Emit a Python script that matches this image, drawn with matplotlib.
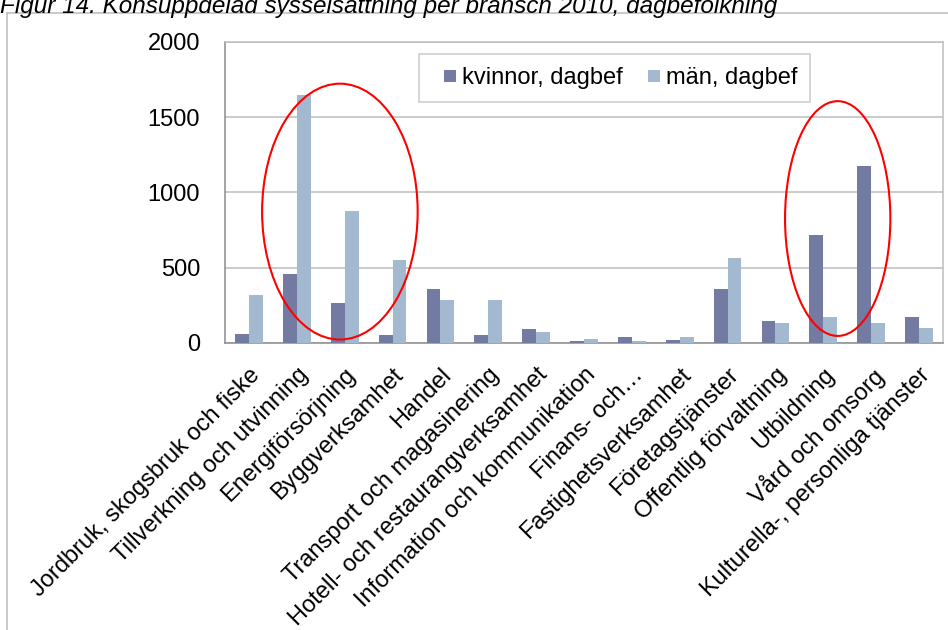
import numpy as np
import matplotlib.pyplot as plt
from matplotlib.patches import Ellipse, Rectangle
from matplotlib.lines import Line2D
from matplotlib.legend_handler import HandlerPatch

plt.rcParams['font.family'] = ['Liberation Sans', 'DejaVu Sans']

# Data
branscher = [
    "Jordbruk, skogsbruk och fiske",
    "Tillverkning och utvinning",
    "Energiförsörjning",
    "Byggverksamhet",
    "Handel",
    "Transport och magasinering",
    "Hotell- och restaurangverksamhet",
    "Information och kommunikation",
    "Finans- och…",
    "Fastighetsverksamhet",
    "Företagstjänster",
    "Offentlig förvaltning",
    "Utbildning",
    "Vård och omsorg",
    "Kulturella-, personliga tjänster",
]
kvinnor = [60, 458, 264, 51, 358, 55, 93, 15, 38, 20, 358, 147, 720, 1176, 173]
man = [320, 1645, 876, 553, 287, 287, 73, 27, 10, 42, 564, 131, 173, 131, 102]
yticks = [0, 500, 1000, 1500, 2000]

col_k = '#737BA3'
col_m = '#A3B9D0'
grid_col = '#BDBDBD'


# small square legend key sitting at the right end of its slot
def square_key(legend, orig_handle, xdescent, ydescent, width, height, fontsize):
    s = 0.5 * fontsize
    return Rectangle((width - s - xdescent, (height - s) / 2 - ydescent), s, s)


fig = plt.figure(figsize=(9.48, 6.3), dpi=100)
ax = fig.add_axes([225 / 948, 1 - 343 / 630, 718 / 948, 301 / 630])

x = np.arange(len(branscher))
w = 0.29
ax.bar(x - w / 2, kvinnor, w, color=col_k, zorder=3)
ax.bar(x + w / 2, man, w, color=col_m, zorder=3)

ax.set_xlim(-0.5, len(branscher) - 0.5)
ax.set_ylim(0, 2000)
ax.set_yticks(yticks)
ax.set_yticklabels([str(v) for v in yticks], fontsize=17)
ax.tick_params(axis='y', length=0, pad=18)
ax.tick_params(axis='x', length=0, pad=15)
ax.set_xticks(x)
ax.set_xticklabels(branscher, rotation=45, ha='right', va='top',
                   rotation_mode='anchor', fontsize=17)
ax.yaxis.grid(True, color=grid_col, lw=1.1, zorder=0)
ax.set_axisbelow(True)
for s in ['top', 'right']:
    ax.spines[s].set_color(grid_col)
    ax.spines[s].set_linewidth(1.1)
for s in ['left', 'bottom']:
    ax.spines[s].set_color('#8C8C8C')
    ax.spines[s].set_linewidth(1.1)

handles = [Rectangle((0, 0), 1, 1, facecolor=col_k, edgecolor='none'),
           Rectangle((0, 0), 1, 1, facecolor=col_m, edgecolor='none')]
leg = ax.legend(handles, ['kvinnor, dagbef', 'män, dagbef'],
                loc='upper left', bbox_to_anchor=(419 / 948, 1 - 54 / 630),
                bbox_transform=fig.transFigure, ncol=2, fontsize=17,
                frameon=True, fancybox=False, edgecolor=grid_col,
                handlelength=1.0, handleheight=0.7, handletextpad=0.25,
                columnspacing=0.6, borderpad=0.55, borderaxespad=0,
                handler_map={Rectangle: HandlerPatch(patch_func=square_key)})
leg.get_frame().set_linewidth(1.1)

# red highlight ellipses
ax.add_patch(Ellipse((1.9, 873), 3.25, 1700, fill=False, edgecolor='red',
                     lw=1.5, clip_on=False, zorder=5))
ax.add_patch(Ellipse((12.3, 827), 2.2, 1560, fill=False, edgecolor='red',
                     lw=1.5, clip_on=False, zorder=5))

# outer frame and title (top cut off as in the source)
fy = 1 - 12.5 / 630
fig.add_artist(Line2D([7 / 948, 7 / 948], [0, fy], color='#C0C0C0', lw=1.2))
fig.add_artist(Line2D([7 / 948, 1], [fy, fy], color='#C0C0C0', lw=1.2))
fig.text(0, 1 - 13 / 630, "Figur 14. Konsuppdelad sysselsättning per bransch 2010, dagbefolkning",
         fontsize=17.5, style='italic', ha='left', va='baseline')

fig.savefig('out.png', dpi=100)
